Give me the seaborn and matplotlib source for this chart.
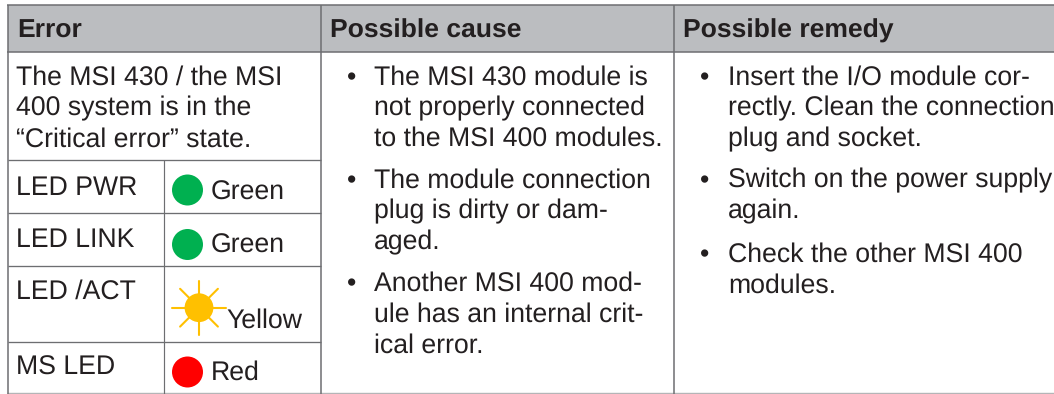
import matplotlib
matplotlib.use("Agg")
import matplotlib.pyplot as plt
import seaborn as sns
import pandas as pd

# ---- content ----
headers = ["Error", "Possible cause", "Possible remedy"]
error_lines = ["The MSI 430 / the MSI", "400 system is in the", "\u201cCritical error\u201d state."]
led_names = ["LED PWR", "LED LINK", "LED /ACT", "MS LED"]
led_states = ["Green", "Green", "Yellow", "Red"]
cause_lines = ["The MSI 430 module is", "not properly connected", "to the MSI 400 modules.",
               "The module connection", "plug is dirty or dam-", "aged.",
               "Another MSI 400 mod-", "ule has an internal crit-", "ical error."]
cause_bullet = [True, False, False, True, False, False, True, False, False]
remedy_lines = ["Insert the I/O module cor-", "rectly. Clean the connection", "plug and socket.",
                "Switch on the power supply", "again.",
                "Check the other MSI 400", "modules."]
remedy_bullet = [True, False, False, True, False, True, False]

# ---- layout in image pixels ----
W, H = 1054, 394
col_x = [321, 674]
sub_x = 164.3
left, top, head_b = 8, 5, 51.7
row_y = [160.3, 213.3, 265.7, 341.7]
bottom = 393.3
head_base = 38
error_base = [84.8, 115.5, 146.5]
name_base = [194.5, 247, 299, 375]
state_base = [200, 253, 327.4, 380]
state_x = [210.5, 210.5, 226, 210.5]
cause_base = [84.8, 115.5, 146.2, 187.8, 218.5, 249.5, 291, 322, 352.7]
remedy_base = [84.8, 115.5, 146.2, 187.8, 218.8, 262, 293]
led_x = [187.5, 187.5, 199, 187.5]
led_y = [190, 244.5, 307.7, 372]
led_col = ["#00B050", "#00B050", "#FFC000", "#FF0000"]
led_size = [498, 498, 430, 498]

INK = "#231F20"
LINE = "#6D6E71"
HEAD = "#BBBDC0"
FS = 19.2
FS_HEAD = 19.05

sns.set_theme(style="white")
plt.rcParams["font.family"] = ["Liberation Sans", "DejaVu Sans"]
plt.rcParams["text.hinting"] = "none"

fig = plt.figure(figsize=(W / 100, H / 100), dpi=100, facecolor="white")
ax = fig.add_axes([0, 0, 1, 1])
ax.set_xlim(0, W)
ax.set_ylim(H, 0)
ax.axis("off")

ax.fill_between([left, W], top, head_b, color=HEAD, lw=0, zorder=0)

def h(y, x0, x1, lw=1.1, c=LINE):
    ax.plot([x0, x1], [y, y], color=c, lw=lw, solid_capstyle="butt", zorder=1)

def v(x, y0, y1, lw=1.1):
    ax.plot([x, x], [y0, y1], color=LINE, lw=lw, solid_capstyle="butt", zorder=1)

h(top, left - 1, W)
h(head_b, left - 1, W)
h(bottom, left - 1, W, 1.0, "#B4B5B7")
v(left, top, H)
v(col_x[0], top, H)
v(col_x[1], top, H)
for y in row_y:
    h(y, left, col_x[0], 0.95)
v(sub_x, row_y[0], H, 0.85)

for x, t in zip([17, 330, 683], headers):
    ax.text(x, head_base, t, fontsize=FS_HEAD, fontweight="bold", color=INK, va="baseline")
for y, t in zip(error_base, error_lines):
    ax.text(16.5, y, t, fontsize=FS, color=INK, va="baseline")
for y, t in zip(name_base, led_names):
    ax.text(16.5, y, t, fontsize=FS, color=INK, va="baseline")
for x, y, t in zip(state_x, state_base, led_states):
    ax.text(x, y, t, fontsize=FS, color=INK, va="baseline")
for y, t, b in zip(cause_base, cause_lines, cause_bullet):
    ax.text(374, y, t, fontsize=FS, color=INK, va="baseline")
    if b:
        ax.text(352, y, "\u2022", fontsize=FS, color=INK, va="baseline", ha="center")
for y, t, b in zip(remedy_base, remedy_lines, remedy_bullet):
    ax.text(728, y, t, fontsize=FS, color=INK, va="baseline")
    if b:
        ax.text(704.5, y, "\u2022", fontsize=FS, color=INK, va="baseline", ha="center")

# sun rays for the yellow LED
cx, cy = led_x[2], led_y[2]
for dx, dy in [(1, 0), (-1, 0), (0, 1), (0, -1), (.7, .7), (.7, -.7), (-.7, .7), (-.7, -.7)]:
    ax.plot([cx + 12 * dx, cx + 27 * dx], [cy + 12 * dy, cy + 27 * dy], color=led_col[2], lw=1.5, zorder=2)

leds = pd.DataFrame({"x": led_x, "y": led_y, "state": [f"{s}{i}" for i, s in enumerate(led_states)], "size": led_size})
sns.scatterplot(data=leds, x="x", y="y", hue="state", palette=led_col, size="state",
                sizes=dict(zip(leds["state"], led_size)), linewidth=0, legend=False, ax=ax, zorder=3)
ax.set_xlim(0, W)
ax.set_ylim(H, 0)
ax.axis("off")

fig.savefig("out.png", dpi=100)
